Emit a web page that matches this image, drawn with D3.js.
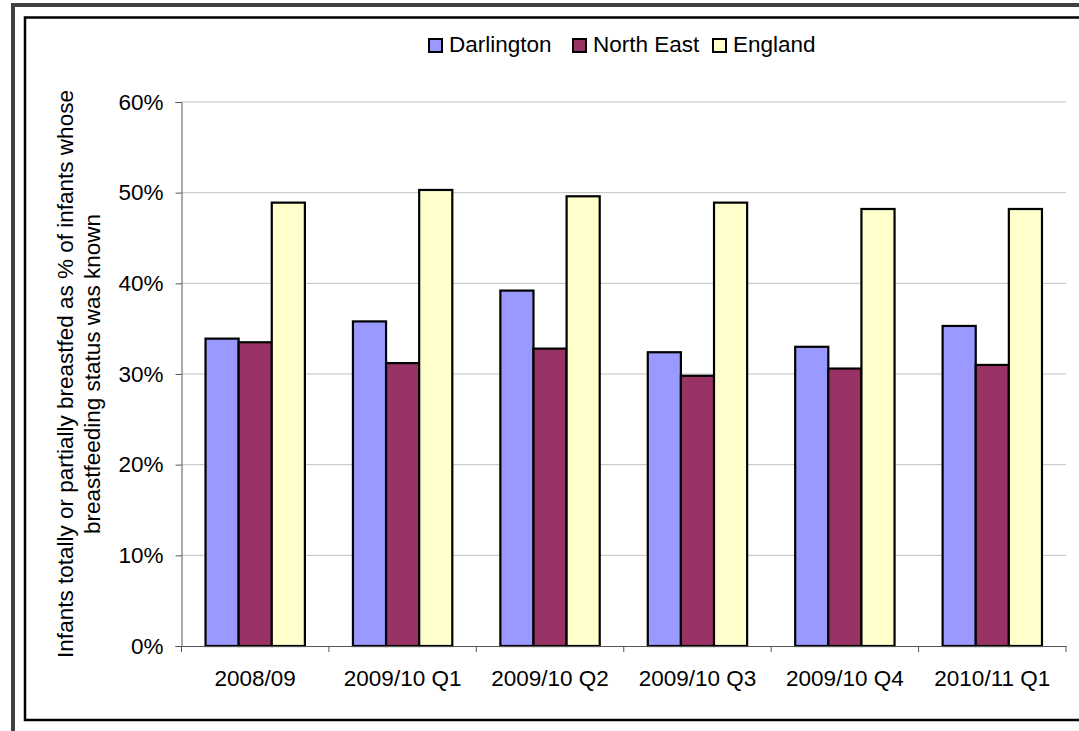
<!DOCTYPE html>
<html>
<head>
<meta charset="utf-8">
<script src="https://cdn.jsdelivr.net/npm/d3@7"></script>
<style>
  body { margin: 0; background: #fff; }
  text { font-family: "Liberation Sans", Arial, sans-serif; fill: #000; }
</style>
</head>
<body>
<script>
// data
const periods = ["2008/09", "2009/10 Q1", "2009/10 Q2", "2009/10 Q3", "2009/10 Q4", "2010/11 Q1"];
const seriesNames = ["Darlington", "North East", "England"];
const darlington = [33.9, 35.8, 39.2, 32.4, 33.0, 35.3];
const northEast = [33.5, 31.2, 32.8, 29.8, 30.6, 31.0];
const england = [48.9, 50.3, 49.6, 48.9, 48.2, 48.2];
const yTicks = [0, 10, 20, 30, 40, 50, 60];

const colors = {"Darlington": "#9999ff", "North East": "#993366", "England": "#ffffcc"};
const values = {"Darlington": darlington, "North East": northEast, "England": england};

const canvWidth = 1079, canvHeight = 731;
const svg = d3.select("body").append("svg")
    .attr("width", canvWidth)
    .attr("height", canvHeight);

// frames (chart is cropped on the right)
svg.append("rect")
    .attr("x", 13).attr("y", 5)
    .attr("width", 1200).attr("height", 800)
    .attr("fill", "none").attr("stroke", "#404040").attr("stroke-width", 4);
svg.append("rect")
    .attr("x", 25).attr("y", 17.5)
    .attr("width", 1200).attr("height", 702.5)
    .attr("fill", "none").attr("stroke", "#000").attr("stroke-width", 2.5);

const plot = {left: 181.5, right: 1066, top: 102, bottom: 646};
const fontSize = "22.5px";

const x0 = d3.scaleBand()
    .domain(periods)
    .range([plot.left, plot.right])
    .paddingInner(0.326)
    .paddingOuter(0.163);
const x1 = d3.scaleBand()
    .domain(seriesNames)
    .range([0, x0.bandwidth()]);
const y = d3.scaleLinear()
    .domain([0, 60])
    .range([plot.bottom, plot.top]);

// gridlines
svg.append("g")
    .selectAll("line")
    .data(yTicks.filter(d => d > 0))
    .enter().append("line")
    .attr("x1", plot.left).attr("x2", plot.right)
    .attr("y1", d => y(d)).attr("y2", d => y(d))
    .attr("stroke", "#c0c0c0").attr("stroke-width", 1);

// bars
const groups = svg.append("g")
    .selectAll("g")
    .data(periods)
    .enter().append("g")
    .attr("transform", d => "translate(" + x0(d) + ",0)");

groups.selectAll("rect")
    .data((p, i) => seriesNames.map(s => ({series: s, value: values[s][i]})))
    .enter().append("rect")
    .attr("x", d => x1(d.series))
    .attr("y", d => y(d.value))
    .attr("width", x1.bandwidth())
    .attr("height", d => y(0) - y(d.value))
    .attr("fill", d => colors[d.series])
    .attr("stroke", "#000")
    .attr("stroke-width", 2.2);

// y axis
const yAxis = d3.axisLeft(y)
    .tickValues(yTicks)
    .tickSize(6)
    .tickPadding(12)
    .tickFormat(d => d + "%");
const gy = svg.append("g")
    .attr("transform", "translate(" + plot.left + ",0)")
    .call(yAxis);
gy.selectAll("text").style("font-size", fontSize).attr("font-family", null);

// x axis
const xAxis = d3.axisBottom(x0).tickSize(0).tickPadding(24);
const gx = svg.append("g")
    .attr("transform", "translate(0," + plot.bottom + ")")
    .call(xAxis);
gx.selectAll("text").style("font-size", fontSize).attr("font-family", null);
// category boundary ticks
const step = x0.step();
gx.selectAll(".bound")
    .data(d3.range(periods.length + 1))
    .enter().append("line")
    .attr("class", "bound")
    .attr("x1", i => plot.left + i * step).attr("x2", i => plot.left + i * step)
    .attr("y1", 0).attr("y2", 6)
    .attr("stroke", "#000");
svg.selectAll(".domain, .tick line").attr("stroke", "#555");
gx.selectAll(".bound").attr("stroke", "#555");

// y axis title
const yt = svg.append("text")
    .attr("transform", "translate(73," + ((plot.top + plot.bottom) / 2) + ") rotate(-90)")
    .style("text-anchor", "middle")
    .style("font-size", fontSize);
yt.append("tspan").attr("x", 0).attr("dy", 0)
    .text("Infants totally or partially breastfed as % of infants whose");
yt.append("tspan").attr("x", 0).attr("dy", 27)
    .text("breastfeeding status was known");

// legend
const legendX = [429, 573, 713];
const legend = svg.append("g")
    .selectAll("g")
    .data(seriesNames)
    .enter().append("g")
    .attr("transform", (d, i) => "translate(" + legendX[i] + ",39)");
legend.append("rect")
    .attr("width", 13).attr("height", 13)
    .attr("fill", d => colors[d])
    .attr("stroke", "#000").attr("stroke-width", 2);
legend.append("text")
    .attr("x", 20).attr("y", 13)
    .style("font-size", fontSize)
    .text(d => d);
</script>
</body>
</html>
